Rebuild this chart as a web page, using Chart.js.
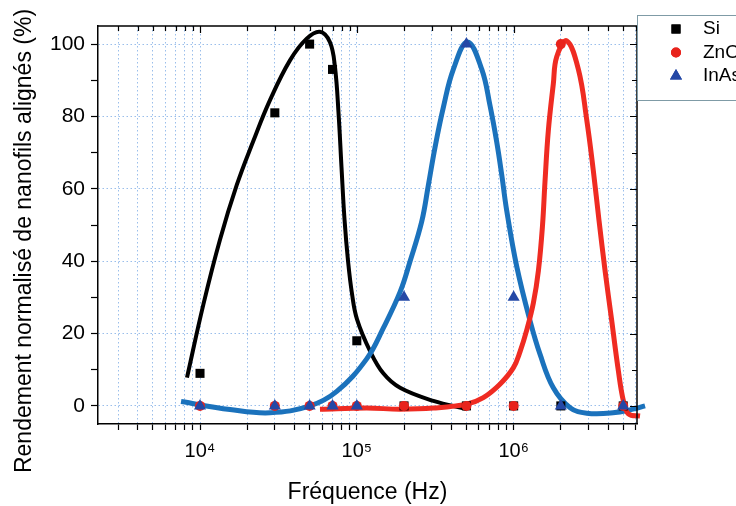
<!DOCTYPE html>
<html>
<head>
<meta charset="utf-8">
<script src="https://cdn.jsdelivr.net/npm/chart.js@4.4.1/dist/chart.umd.min.js"></script>
<style>
html,body{margin:0;padding:0;background:#fff;}
canvas{display:block;}
</style>
</head>
<body>
<canvas id="c" width="736" height="506"></canvas>
<script>
// ---- data ----
const seriesNames = ['Si', 'ZnO', 'InAs'];
const measuredFreq = [1e4, 3e4, 5e4, 7e4, 1e5, 2e5, 5e5, 1e6, 2e6, 5e6];
const siMeasured   = [9, 81, 100, 93, 18, 0, 0, 0, 0, 0];
const znoMeasured  = [0, 0, 0, 0, 0, 0, 0, 0, 100, 0];
const inasMeasured = [0, 0, 0, 0, 0, 30, 100, 30, 0, 0];

const siFitFreq = [8260, 10500, 13420, 17140, 21780, 27940, 37470, 47890, 58200, 67420, 72590, 76430, 79850, 83490, 87920, 93170, 100200, 121300, 147500, 188800, 307600, 502300];
const siFitVal  = [7.8, 28, 46, 61, 73, 84.5, 95.5, 101.5, 103.4, 100.5, 93.5, 81, 66, 51.5, 40, 31, 24, 15.2, 9, 5, 1.4, -0.9];

const znoFitFreq = [58200, 115600, 188800, 307600, 502300, 641000, 818000, 995000, 1099000, 1213000, 1337000, 1439000, 1529000, 1585000, 1664000, 1791000, 1883000, 2182000, 2588000, 2927000, 3223000, 3505000, 3829000, 4224000, 4656000, 5012000, 5395000, 6397000, 6887000];
const znoFitVal  = [-0.9, -0.6, -0.9, -0.6, 0.5, 2.3, 6, 10.5, 15, 21, 28.5, 37.4, 50, 62, 76, 89, 96.5, 100.9, 93, 79, 65, 51.2, 37.4, 23.5, 9.7, 1.4, -2.2, -2.8, -2.8];

const inasFitFreq = [7570, 15530, 27940, 50350, 74500, 115600, 147500, 188800, 218600, 259500, 285900, 315400, 356300, 412500, 507500, 626600, 706800, 779700, 839000, 903300, 1047000, 1273000, 1473000, 1791000, 2291000, 2927000, 4305000, 5770000, 6887000];
const inasFitVal  = [1.2, -1, -1.9, 0, 4, 13, 21.5, 31.5, 40, 51, 61, 71.5, 82.5, 93, 100.6, 93, 83, 73, 64, 54, 38.5, 23.5, 14.3, 5, -0.5, -2, -1.9, -0.9, 0];

const xTickValues = [3000,4000,5000,6000,7000,8000,9000,1e4,2e4,3e4,4e4,5e4,6e4,7e4,8e4,9e4,1e5,2e5,3e5,4e5,5e5,6e5,7e5,8e5,9e5,1e6,2e6,3e6,4e6,5e6,6e6];
const xTickLabels = {10000: '10\u2074', 100000: '10\u2075', 1000000: '10\u2076'};
const yTickValues = [0,10,20,30,40,50,60,70,80,90,100];
const yLabelStep = 20;

const xTitle = 'Fréquence (Hz)';
const yTitle = 'Rendement normalisé de nanofils alignés (%)';

// ---- styles ----
const FONT = '"Liberation Sans", Arial, Helvetica, sans-serif';
const colBlack = '#000000';
const colRedLine = '#ef2b22';
const colBlueLine = '#1b72bc';
const colRedPt = '#e8231c';
const colBluePt = '#2448a6';
const gridColor = 'rgba(120,168,228,0.75)';

const pts = (xs, ys) => xs.map((x, i) => ({x: x, y: ys[i]}));

Chart.defaults.font.family = FONT;
Chart.defaults.color = '#000';

const framePlugin = {
  id: 'frame',
  afterDraw(chart) {
    const {ctx, chartArea: a, scales: {x, y}} = chart;
    ctx.save();
    ctx.strokeStyle = '#000';
    ctx.lineWidth = 1.5;
    ctx.beginPath();
    ctx.moveTo(a.left, a.top); ctx.lineTo(a.right, a.top);
    ctx.moveTo(a.right, a.top); ctx.lineTo(a.right, a.bottom);
    ctx.stroke();
    ctx.lineWidth = 1.2;
    ctx.beginPath();
    xTickValues.forEach(v => {
      const px = Math.round(x.getPixelForValue(v)) + 0.5;
      const len = xTickLabels[v] ? 7 : 5;
      ctx.moveTo(px, a.top); ctx.lineTo(px, a.top + len);
    });
    yTickValues.forEach(v => {
      const py = Math.round(y.getPixelForValue(v)) + 0.5;
      const len = v % yLabelStep === 0 ? 7 : 5;
      ctx.moveTo(a.right, py); ctx.lineTo(a.right - len, py);
    });
    ctx.stroke();

    // y axis title
    ctx.save();
    ctx.translate(25, 241);
    ctx.rotate(-Math.PI / 2);
    ctx.fillStyle = '#000';
    ctx.font = '23px ' + FONT;
    ctx.textAlign = 'center';
    ctx.textBaseline = 'middle';
    ctx.fillText(yTitle, 0, 0);
    ctx.restore();

    // legend box
    ctx.fillStyle = '#fff';
    ctx.strokeStyle = '#7f9ba6';
    ctx.lineWidth = 1;
    ctx.fillRect(637, 15, 110, 86);
    ctx.strokeRect(637.5, 15.5, 110, 85);
    const items = chart.data.datasets.filter(d => d.legendRow !== undefined);
    items.forEach(d => {
      const cy = 29 + d.legendRow * 23.5;
      ctx.fillStyle = d.backgroundColor;
      ctx.strokeStyle = d.borderColor;
      Chart.helpers.drawPoint(ctx, {pointStyle: d.pointStyle, radius: d.pointRadius, rotation: 0, borderWidth: 0}, 676, cy);
      ctx.fill();
      ctx.fillStyle = '#000';
      ctx.font = '19px ' + FONT;
      ctx.textAlign = 'left';
      ctx.textBaseline = 'middle';
      ctx.fillText(d.label, 703, cy);
    });
    ctx.restore();
  }
};

const lineClip = {left: 10, right: 10, top: 5, bottom: 5};

new Chart(document.getElementById('c'), {
  type: 'scatter',
  data: {
    datasets: [
      {label: 'Si fit', data: pts(siFitFreq, siFitVal), showLine: true, borderColor: colBlack, borderWidth: 4, pointRadius: 0, tension: 0.4, order: 6, clip: lineClip},
      {label: 'InAs fit', data: pts(inasFitFreq, inasFitVal), showLine: true, borderColor: colBlueLine, borderWidth: 5, pointRadius: 0, tension: 0.4, order: 5, clip: lineClip},
      {label: 'ZnO fit', data: pts(znoFitFreq, znoFitVal), showLine: true, borderColor: colRedLine, borderWidth: 5, pointRadius: 0, tension: 0.4, order: 4, clip: lineClip},
      {label: seriesNames[0], legendRow: 0, data: pts(measuredFreq, siMeasured), pointStyle: 'rect', pointRadius: 6.4, backgroundColor: colBlack, borderColor: colBlack, borderWidth: 0, order: 3},
      {label: seriesNames[1], legendRow: 1, data: pts(measuredFreq, znoMeasured), pointStyle: 'circle', pointRadius: 5, backgroundColor: colRedPt, borderColor: colRedPt, borderWidth: 0, order: 2},
      {label: seriesNames[2], legendRow: 2, data: pts(measuredFreq, inasMeasured), pointStyle: 'triangle', pointRadius: 7, backgroundColor: colBluePt, borderColor: colBluePt, borderWidth: 0, order: 1}
    ]
  },
  options: {
    responsive: false,
    animation: false,
    devicePixelRatio: 1,
    layout: {padding: {left: 0, right: 99, top: 26, bottom: 0}},
    plugins: {legend: {display: false}, tooltip: {enabled: false}},
    scales: {
      x: {
        type: 'logarithmic',
        position: 'bottom',
        min: 2236,
        max: 6.12e6,
        afterBuildTicks: s => { s.ticks = xTickValues.map(v => ({value: v})); },
        afterFit: s => { s.height = 82; },
        ticks: {
          autoSkip: false, maxRotation: 0, minRotation: 0,
          callback: v => xTickLabels[v] || '',
          font: {size: 20}, color: '#000', padding: 9
        },
        grid: {color: gridColor, lineWidth: 1, tickColor: '#000', tickLength: 6, tickWidth: 1.2},
        border: {display: true, color: '#000', width: 1.5, dash: [1.5, 2.5]},
        title: {display: true, text: xTitle, font: {size: 23, lineHeight: 1}, color: '#000', padding: {top: 0, bottom: 2}}
      },
      y: {
        type: 'linear',
        position: 'left',
        min: -5,
        max: 105,
        afterBuildTicks: s => { s.ticks = yTickValues.map(v => ({value: v})); },
        afterFit: s => { s.width = 98; },
        ticks: {
          callback: v => (v % yLabelStep === 0 ? String(v) : ''),
          font: {size: 21}, color: '#000', padding: 6
        },
        grid: {
          color: c => (c.tick && c.tick.value % yLabelStep === 0) ? gridColor : 'rgba(0,0,0,0)',
          lineWidth: 1, tickColor: '#000', tickLength: 7, tickWidth: 1.2
        },
        border: {display: true, color: '#000', width: 1.5, dash: [1.5, 2.5]},
        title: {display: false}
      }
    }
  },
  plugins: [framePlugin]
});
</script>
</body>
</html>
